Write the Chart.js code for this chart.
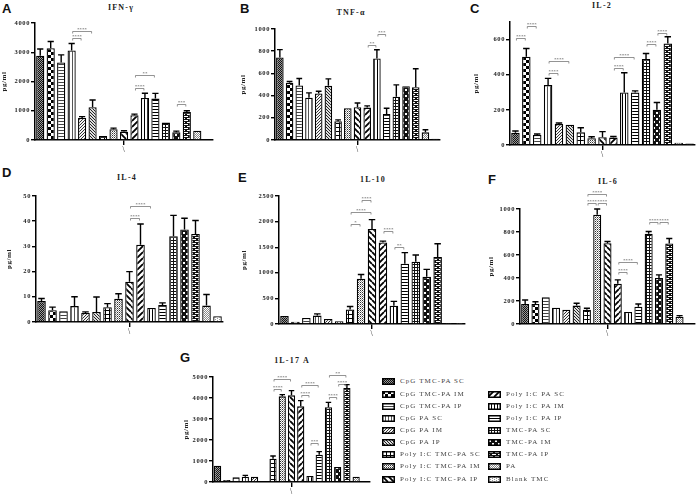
<!DOCTYPE html>
<html>
<head>
<meta charset="utf-8">
<script src="https://cdn.jsdelivr.net/npm/chart.js@4.4.1/dist/chart.umd.min.js"></script>
<style>
  body { margin: 0; background: #fff; }
  #fig { position: relative; width: 696px; height: 495px; overflow: hidden; }
  .box { position: absolute; }
  .lt { position: absolute; font: bold 13px/13px "Liberation Sans", Arial, sans-serif; color: #111; }
  .ti { position: absolute; width: 100px; text-align: center; font: bold 8px/8px "Liberation Serif", serif; letter-spacing: 1.2px; color: #222; white-space: pre; }
  .lg { position: absolute; height: 12px; display: flex; align-items: center; font: 7px/7px "Liberation Serif", serif; letter-spacing: 1.1px; color: #444; white-space: nowrap; }
  .lg canvas { margin-right: 5px; }
</style>
</head>
<body>
<div id="fig">
  <div class="lt" style="left:2px;top:2.4px">A</div>
  <div class="lt" style="left:240px;top:2.4px">B</div>
  <div class="lt" style="left:470px;top:2.4px">C</div>
  <div class="lt" style="left:2px;top:166.4px">D</div>
  <div class="lt" style="left:238px;top:171.4px">E</div>
  <div class="lt" style="left:488px;top:173.4px">F</div>
  <div class="lt" style="left:180px;top:351.4px">G</div>
  <div class="ti" style="left:71px;top:3.6px">IFN-γ</div>
  <div class="ti" style="left:301px;top:8.6px">TNF-α</div>
  <div class="ti" style="left:552px;top:1.6px">IL-2</div>
  <div class="ti" style="left:77px;top:173.6px">IL-4</div>
  <div class="ti" style="left:323px;top:175.6px">1L-10</div>
  <div class="ti" style="left:558px;top:177.6px">IL-6</div>
  <div class="ti" style="left:242px;top:356.6px">1L-17 A</div>
</div>
<script>
// Cytokine panels (pg/ml), one bar per group, error bars + significance brackets

const groups = ['CpG TMC-PA SC', 'CpG TMC-PA IM', 'CpG TMC-PA IP', 'CpG PA SC', 'CpG PA IM', 'CpG PA IP',
  'Poly I:C TMC-PA SC', 'Poly I:C TMC-PA IM', 'Poly I:C TMC-PA IP', 'Poly I:C PA SC', 'Poly I:C PA IM',
  'Poly I:C PA IP', 'TMC-PA SC', 'TMC-PA IM', 'TMC-PA IP', 'PA', 'Blank TMC'];

const ifnVals = [2880, 3140, 2650, 3060, 750, 1120, 140, 365, 285, 845, 1440, 1415, 595, 265, 960, 320, 25];
const ifnErr  = [230, 230, 260, 240, 50, 250, 20, 40, 30, 40, 160, 180, 20, 40, 40, 20, 5];
const ifnSig  = [[3, 4, 3486, '****'], [3, 5, 3737, '****'], [9, 10, 1794, '****'], [9, 11, 2206, '**'], [13, 14, 1223, '***']];

const tnfVals = [744, 515, 491, 380, 419, 488, 169, 286, 295, 292, 735, 235, 389, 485, 476, 69, 12];
const tnfErr  = [70, 12, 63, 45, 20, 63, 12, 6, 39, 15, 78, 51, 108, 6, 166, 24, 2];
const tnfSig  = [[9, 10, 858, '**'], [10, 11, 955, '***']];

const il2Vals = [70, 502, 57, 341, 119, 115, 72, 38, 44, 42, 299, 299, 489, 201, 578, 13, 8];
const il2Err  = [10, 47, 6, 38, 6, 3, 26, 9, 32, 6, 112, 9, 32, 41, 38, 2, 1];
const il2Sig  = [[0, 1, 610, '****'], [1, 2, 676, '****'], [3, 4, 411, '****'], [3, 5, 477, '****'],
  [9, 10, 436, '****'], [9, 11, 502, '****'], [12, 13, 572, '****'], [13, 14, 640, '****']];

const il4Vals = [8.3, 4.7, 4.3, 6.3, 3.6, 4.0, 5.9, 9.2, 16, 30.7, 5.6, 6.7, 34, 36.7, 34.9, 6.5, 2.3];
const il4Err  = [1, 1.2, 0.2, 3.7, 0.4, 5.9, 1.4, 2, 4, 8.2, 0.3, 0.9, 8.3, 4.5, 5.4, 4.4, 0.3];
const il4Sig  = [[8, 9, 41.2, '****'], [8, 10, 46, '****']];

const il10Vals = [158, 46, 118, 164, 99, 53, 283, 882, 1855, 1592, 355, 1178, 1217, 921, 1309, 8, 5];
const il10Err  = [13, 3, 5, 33, 5, 3, 59, 85, 184, 26, 86, 217, 132, 145, 257, 1, 1];
const il10Sig  = [[6, 7, 1954, '*'], [6, 8, 2191, '****'], [7, 8, 2428, '****'], [9, 10, 1809, '****'], [10, 11, 1500, '**']];

const il6Vals = [174, 174, 233, 142, 125, 160, 125, 950, 703, 349, 105, 151, 785, 401, 700, 64, 6];
const il6Err  = [35, 20, 6, 5, 3, 20, 12, 50, 15, 35, 3, 23, 20, 26, 44, 9, 1];
const il6Sig  = [[6, 7, 1049, '****'], [7, 8, 1049, '****'], [6, 8, 1134, '****'], [9, 10, 456, '****'],
  [9, 11, 538, '****'], [12, 13, 884, '****'], [13, 14, 884, '****']];

const il17Vals = [778, 95, 222, 254, 254, 48, 1111, 4079, 4127, 3603, 286, 1302, 3556, 714, 4476, 254, 32];
const il17Err  = [10, 5, 5, 63, 10, 3, 127, 80, 222, 270, 30, 143, 238, 30, 159, 30, 3];
const il17Sig  = [[6, 7, 4413, '****'], [6, 8, 4921, '****'], [9, 10, 4159, '****'], [9, 11, 4603, '****'],
  [10, 11, 1857, '***'], [12, 13, 4063, '****'], [13, 14, 4683, '****'], [12, 14, 5079, '**']];

const SERIF = "'Liberation Serif', 'DejaVu Serif', serif";

// ---- fill patterns, one per group ----
function mkTile(w, h, bg, fn) {
  const c = document.createElement('canvas');
  c.width = w; c.height = h;
  const g = c.getContext('2d');
  g.fillStyle = bg; g.fillRect(0, 0, w, h);
  fn(g);
  return c;
}
function px(g, col, pts) {
  g.fillStyle = col;
  pts.forEach(p => g.fillRect(p[0], p[1], p[2] || 1, p[3] || 1));
}
function diag(g, back) {
  g.strokeStyle = '#000'; g.lineWidth = 1.8;
  g.beginPath();
  for (const k of [-6, 0, 6]) {
    if (back) { g.moveTo(k, 0); g.lineTo(k + 6, 6); }
    else { g.moveTo(k, 6); g.lineTo(k + 6, 0); }
  }
  g.stroke();
}
const tiles = [
  mkTile(2, 2, '#9a9a9a', g => px(g, '#111', [[0, 0], [1, 1]])),
  mkTile(6, 6, '#fff', g => px(g, '#000', [[0, 0, 3, 3], [3, 3, 3, 3]])),
  mkTile(1, 3, '#fff', g => px(g, '#444', [[0, 0]])),
  mkTile(3, 1, '#fff', g => px(g, '#555', [[0, 0]])),
  mkTile(3, 3, '#f4f4f4', g => px(g, '#333', [[2, 0], [1, 1], [0, 2]])),
  mkTile(3, 3, '#ddd', g => px(g, '#222', [[0, 0], [1, 1], [2, 2]])),
  mkTile(4, 4, '#fff', g => px(g, '#000', [[0, 0, 4, 1], [0, 0, 1, 4]])),
  mkTile(2, 2, '#fff', g => { px(g, '#333', [[0, 0]]); px(g, '#999', [[1, 1]]); }),
  mkTile(6, 6, '#fff', g => diag(g, true)),
  mkTile(6, 6, '#fff', g => diag(g, false)),
  mkTile(3, 1, '#fff', g => px(g, '#000', [[0, 0]])),
  mkTile(1, 3, '#fff', g => px(g, '#000', [[0, 0]])),
  mkTile(3, 3, '#111', g => px(g, '#fff', [[1, 1, 2, 2]])),
  mkTile(6, 6, '#111', g => px(g, '#fff', [[1, 1, 2, 2], [4, 4, 2, 2]])),
  mkTile(6, 4, '#111', g => px(g, '#fff', [[1, 1, 4, 1], [4, 3, 2, 1], [0, 3, 2, 1]])),
  mkTile(2, 2, '#fff', g => px(g, '#888', [[0, 0], [1, 1]])),
  mkTile(4, 2, '#fff', g => px(g, '#999', [[0, 0], [2, 1]]))
];

// ---- one panel ----
function makePanel(box, vals, errs, sig, yMax, step) {
  const fig = document.getElementById('fig');
  const canvas = document.createElement('canvas');
  canvas.width = box.w; canvas.height = box.h;
  canvas.className = 'box';
  canvas.style.left = box.left + 'px';
  canvas.style.top = box.top + 'px';
  canvas.style.width = box.w + 'px';
  canvas.style.height = box.h + 'px';
  fig.appendChild(canvas);
  const ctx = canvas.getContext('2d');

  const annot = {
    id: 'annot',
    beforeDraw(chart) {
      chart.ctx.letterSpacing = '0.6px';
    },
    afterDatasetsDraw(chart) {
      const c = chart.ctx;
      const y = chart.scales.y;
      c.save();
      c.letterSpacing = '0px';
      // error bars
      c.strokeStyle = '#000';
      c.lineWidth = 1.4;
      chart.data.datasets.forEach((ds, i) => {
        const bar = chart.getDatasetMeta(i).data[0];
        const top = y.getPixelForValue(ds.data[0] + errs[i]);
        if (bar.y - top < 0.8) return;
        const cw = bar.width * 0.38;
        c.beginPath();
        c.moveTo(bar.x, bar.y);
        c.lineTo(bar.x, top);
        c.moveTo(bar.x - cw, top);
        c.lineTo(bar.x + cw, top);
        c.stroke();
      });
      // significance brackets
      c.strokeStyle = '#666';
      c.lineWidth = 0.7;
      c.fillStyle = '#555';
      c.font = '5px ' + SERIF;
      c.textAlign = 'center';
      c.textBaseline = 'bottom';
      sig.forEach(([a, b, v, lab]) => {
        const x1 = chart.getDatasetMeta(a).data[0].x + 1;
        const x2 = chart.getDatasetMeta(b).data[0].x - 1;
        const py = Math.round(y.getPixelForValue(v)) + 0.5;
        c.beginPath();
        c.moveTo(x1, py + 2); c.lineTo(x1, py); c.lineTo(x2, py); c.lineTo(x2, py + 2);
        c.stroke();
        c.fillText(lab, (x1 + x2) / 2, py + 0.5);
      });
      c.restore();
    }
  };

  return new Chart(ctx, {
    type: 'bar',
    data: {
      labels: ['\\'],
      datasets: groups.map((g, i) => ({
        label: g,
        data: [vals[i]],
        backgroundColor: ctx.createPattern(tiles[i], 'repeat'),
        borderColor: '#000',
        borderWidth: 1.3
      }))
    },
    options: {
      responsive: false,
      animation: false,
      events: [],
      layout: { padding: { top: 22, right: box.pr, left: 0, bottom: 0 } },
      datasets: { bar: { categoryPercentage: 1, barPercentage: 0.78 } },
      plugins: { legend: { display: false }, tooltip: { enabled: false } },
      scales: {
        x: {
          grid: { display: true, offset: false, drawOnChartArea: false, drawTicks: true, tickLength: 5, color: '#000', lineWidth: 1.4 },
          border: { color: '#000', width: 1.5 },
          ticks: { font: { family: SERIF, size: 8 }, color: '#333', padding: 0, maxRotation: 0 },
          afterFit: s => { s.height = 16; }
        },
        y: {
          min: 0,
          max: yMax,
          ticks: {
            stepSize: step,
            font: { family: SERIF, size: 6.5, weight: 'bold' },
            color: '#222',
            padding: 1,
            callback: v => String(v)
          },
          grid: { drawOnChartArea: false, drawTicks: true, tickLength: 4, color: '#000', lineWidth: 1.4 },
          border: { color: '#000', width: 1.5 },
          title: { display: true, text: 'pg/ml', font: { family: SERIF, size: 7, weight: 'bold' }, color: '#222', padding: 0 },
          afterBuildTicks: s => { s.ticks = s.ticks.filter(t => t.value % step === 0); },
          afterFit: s => { s.width = box.yw; }
        }
      }
    },
    plugins: [annot]
  });
}

makePanel({ left: 0, top: 1, w: 215, h: 155, yw: 35, pr: 2 }, ifnVals, ifnErr, ifnSig, 4000, 1000);
makePanel({ left: 239, top: 7, w: 203, h: 149, yw: 36, pr: 2 }, tnfVals, tnfErr, tnfSig, 1000, 200);
makePanel({ left: 472, top: 0, w: 224, h: 161, yw: 38, pr: 1 }, il2Vals, il2Err, il2Sig, 700, 200);
makePanel({ left: 5, top: 174, w: 220, h: 164, yw: 31, pr: 2 }, il4Vals, il4Err, il4Sig, 50, 10);
makePanel({ left: 240, top: 174, w: 227, h: 166, yw: 39, pr: 2 }, il10Vals, il10Err, il10Sig, 2500, 500);
makePanel({ left: 487, top: 187, w: 209, h: 153, yw: 33, pr: 1 }, il6Vals, il6Err, il6Sig, 1000, 200);
makePanel({ left: 182, top: 355, w: 190, h: 143, yw: 31, pr: 2 }, il17Vals, il17Err, il17Sig, 5000, 1000);

// ---- legend: two columns ----
(function buildLegend() {
  const fig = document.getElementById('fig');
  const rowY = [381.7, 394, 406.2, 418.4, 430.5, 442.6, 454.7, 466.9, 479.1];
  groups.forEach((g, i) => {
    const col = i < 9 ? 0 : 1;
    const r = col === 0 ? i : i - 8;
    const row = document.createElement('div');
    row.className = 'lg';
    row.style.left = (col === 0 ? 382 : 488) + 'px';
    row.style.top = (rowY[r] - 6) + 'px';
    const sw = document.createElement('canvas');
    sw.width = 13; sw.height = 7;
    const c = sw.getContext('2d');
    c.fillStyle = c.createPattern(tiles[i], 'repeat');
    c.fillRect(0, 0, 13, 7);
    c.strokeStyle = '#000';
    c.lineWidth = 1.5;
    c.strokeRect(0.75, 0.75, 11.5, 5.5);
    row.appendChild(sw);
    const t = document.createElement('span');
    t.textContent = g;
    row.appendChild(t);
    fig.appendChild(row);
  });
})();
</script>
</body>
</html>
